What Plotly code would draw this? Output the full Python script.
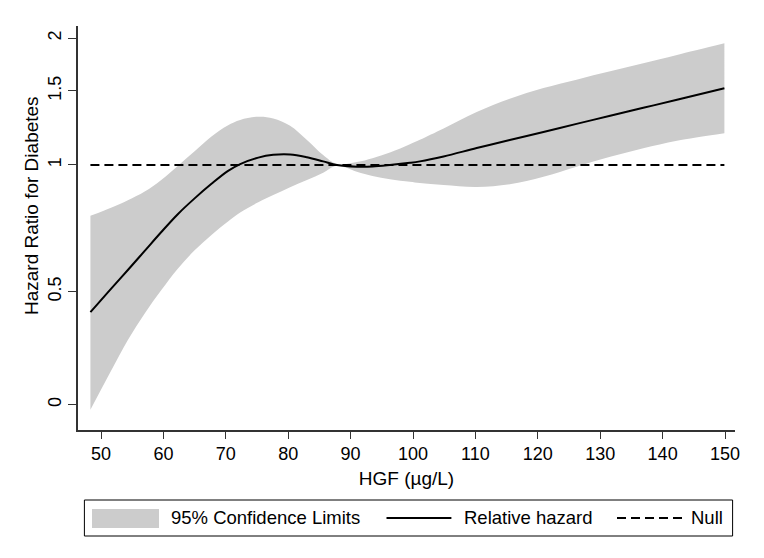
import math
import plotly.graph_objects as go

# ---- data ----
hgf = [48.3, 51.7, 54.3, 57.0, 59.7, 62.3, 65.0, 67.7, 70.3, 72.3, 75.2, 77.6, 80.3,
       83.0, 85.6, 87.8, 91.0, 93.5, 96.3, 99.5, 101.1, 104.9, 110.2, 115.5, 120.9,
       126.2, 131.6, 136.9, 142.3, 149.9]
hr = [0.447, 0.510, 0.563, 0.625, 0.694, 0.764, 0.833, 0.902, 0.967, 1.005, 1.041,
      1.057, 1.059, 1.043, 1.02, 1.0, 0.991, 0.992, 1.0, 1.012, 1.02, 1.048, 1.097,
      1.146, 1.198, 1.252, 1.309, 1.367, 1.429, 1.522]
hr_upper = [0.757, 0.793, 0.825, 0.865, 0.923, 0.995, 1.078, 1.168, 1.241, 1.279, 1.302,
            1.29, 1.24, 1.147, 1.056, 1.005, 1.016, 1.038, 1.07, 1.12, 1.148,
            1.221, 1.336, 1.436, 1.523, 1.595, 1.669, 1.744, 1.826, 1.946]
hr_lower = [0.262, 0.326, 0.384, 0.444, 0.505, 0.567, 0.627, 0.682, 0.733, 0.771,
            0.815, 0.848, 0.885, 0.921, 0.959, 0.996, 0.964, 0.942, 0.925, 0.912, 0.906,
            0.896, 0.887, 0.9, 0.938, 0.991, 1.046, 1.096, 1.142, 1.19]
null_hr = 1.0

x_tickvals = [50, 60, 70, 80, 90, 100, 110, 120, 130, 140, 150]
y_tickvals = [0.2695, 0.5, 1, 1.5, 2]
y_ticktext = ["0", "0.5", "1", "1.5", "2"]

legend_labels = ["95% Confidence Limits", "Relative hazard", "Null"]

FONT = "Liberation Sans, Arial, Helvetica, sans-serif"
BAND = "#cccccc"

fig = go.Figure()
fig.add_trace(go.Scatter(x=hgf, y=hr_lower, mode="lines", line=dict(width=0, shape="spline"),
                         showlegend=False, hoverinfo="skip"))
fig.add_trace(go.Scatter(x=hgf, y=hr_upper, mode="lines", line=dict(width=0, shape="spline"),
                         fill="tonexty", fillcolor=BAND, name=legend_labels[0]))
fig.add_trace(go.Scatter(x=[hgf[0], hgf[-1]], y=[null_hr, null_hr], mode="lines",
                         line=dict(color="black", width=2, dash="9px,5px"), name=legend_labels[2]))
fig.add_trace(go.Scatter(x=hgf, y=hr, mode="lines",
                         line=dict(color="black", width=2, shape="spline"),
                         name=legend_labels[1]))

# legend drawn as a boxed key below the plot (paper coordinates)
ly = -0.2178
shapes = [
    dict(type="rect", xref="paper", yref="paper", x0=0.00974, x1=0.99635, y0=-0.2624, y1=-0.1733,
         line=dict(color="black", width=1), fillcolor="white", layer="below"),
    dict(type="rect", xref="paper", yref="paper", x0=0.02131, x1=0.12329, y0=-0.2426, y1=-0.1955,
         line=dict(width=0), fillcolor=BAND),
    dict(type="line", xref="paper", yref="paper", x0=0.46956, x1=0.56834, y0=ly, y1=ly,
         line=dict(color="black", width=2)),
    dict(type="line", xref="paper", yref="paper", x0=0.82040, x1=0.92237, y0=ly, y1=ly,
         line=dict(color="black", width=2, dash="9px,5px")),
    # faint outer frame of the graph region
    dict(type="rect", xref="paper", yref="paper", x0=-0.108, x1=1.0335, y0=-0.32, y1=1.047,
         line=dict(color="#eef3f3", width=1), layer="below"),
]
annotations = [
    dict(text="Hazard Ratio for Diabetes", textangle=-90, xref="paper", yref="paper",
         x=-0.070, y=0.5545, xanchor="center", yanchor="middle", showarrow=False,
         font=dict(size=19)),
]
for lbl, lx in zip(legend_labels, [0.1390, 0.5850, 0.9300]):
    annotations.append(dict(text=lbl, xref="paper", yref="paper", x=lx, y=ly,
                            xanchor="left", yanchor="middle", showarrow=False,
                            font=dict(size=18.5)))

fig.update_layout(
    width=756, height=550,
    margin=dict(l=70, r=29, t=18, b=128),
    paper_bgcolor="white", plot_bgcolor="white",
    font=dict(family=FONT, size=18, color="black"),
    showlegend=False,
    xaxis=dict(range=[46.31, 151.6], tickvals=x_tickvals, ticks="outside", ticklen=7,
               tickcolor="#333333", showline=True, linecolor="#333333", linewidth=1.5,
               showgrid=False, zeroline=False,
               title=dict(text="HGF (µg/L)", font=dict(size=19), standoff=8)),
    yaxis=dict(type="log", range=[math.log10(0.2346), math.log10(2.139)],
               tickvals=y_tickvals, ticktext=y_ticktext, tickangle=-90,
               ticks="outside", ticklen=8, tickcolor="#333333", showline=True,
               linecolor="#333333", linewidth=1.5, showgrid=False, zeroline=False),
    annotations=annotations,
    shapes=shapes,
)

fig.write_html("out.html")
